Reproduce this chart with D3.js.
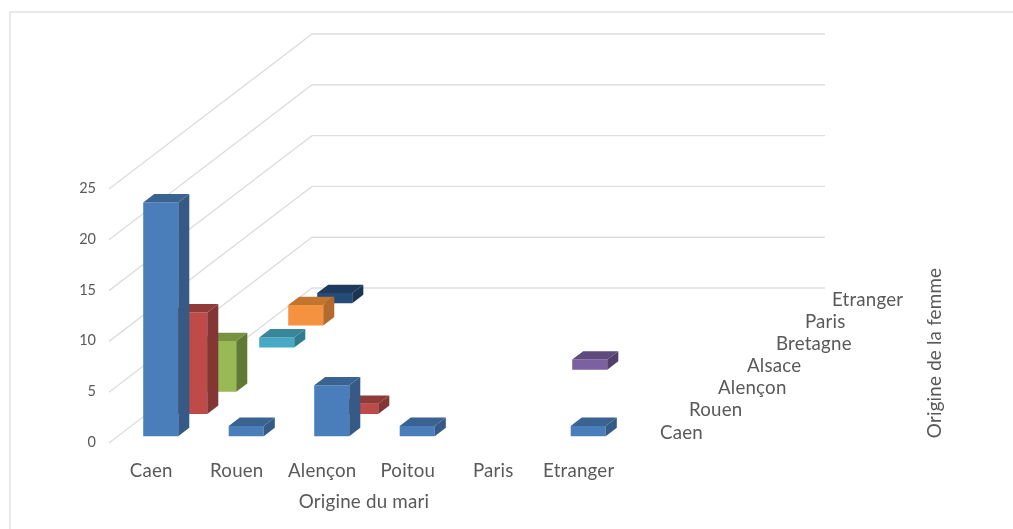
<!DOCTYPE html>
<html><head><meta charset="utf-8">
<script src="https://cdn.jsdelivr.net/npm/d3@7"></script>
<style>html,body{margin:0;padding:0;background:#fff}svg{display:block;filter:blur(0.35px)}text{font-family:Lato,"Open Sans",sans-serif;fill:#595959}</style>
</head><body><svg id="c" width="1013" height="529"></svg>
<script>
const husbandOrigins = ["Caen","Rouen","Alençon","Poitou","Paris","Etranger"];
const wifeOrigins = ["Caen","Rouen","Alençon","Alsace","Bretagne","Paris","Etranger"];
const valuesCaen     = [23,1,5,1,0,1];
const valuesRouen    = [10,0,1,0,0,0];
const valuesAlencon  = [5,0,0,0,0,0];
const valuesAlsace   = [0,0,0,0,1,0];
const valuesBretagne = [1,0,0,0,0,0];
const valuesParis    = [2,0,0,0,0,0];
const valuesEtranger = [1,0,0,0,0,0];
const seriesValues = [valuesCaen,valuesRouen,valuesAlencon,valuesAlsace,valuesBretagne,valuesParis,valuesEtranger];
const valueTicks = [0,5,10,15,20,25];
const frontColors = ["#4a7ebb","#be4b48","#98b954","#7d60a0","#46aac5","#f59240","#254b78"];
const sideColors  = ["#355a86","#843634","#617a33","#523f6b","#2f7c90","#b36a2c","#1a3552"];
const topColors   = ["#3a6391","#8f3b39","#789340","#5e4a7c","#37869c","#c1752f","#1e3b5e"];

const svg = d3.select("#c");
const corner = {x:109,y:443};
const wallW = 513, depthW = 203, depthH = 155;

const x = d3.scaleBand().domain(husbandOrigins).range([0,wallW]).paddingInner(0.59).paddingOuter(0.295);
const y = d3.scaleLinear().domain([0,25]).range([0,254]);
const dx = d3.scaleLinear().domain([0,wifeOrigins.length]).range([0,depthW]);
const dy = d3.scaleLinear().domain([0,wifeOrigins.length]).range([0,depthH]);
const P = (px,d,v)=>[corner.x+px+dx(d), corner.y-dy(d)-y(v)];
const pts = a=>a.map(p=>p.join(",")).join(" ");

// outer frame
svg.append("path").attr("d","M10,529V12H1013").attr("fill","none").attr("stroke","#e2e2e2").attr("stroke-width",1.5);

// gridlines
const grid = svg.append("g").attr("fill","none").attr("stroke","#dedede").attr("stroke-width",1.4);
grid.selectAll("polyline").data(valueTicks).join("polyline")
  .attr("points",t=>pts([P(0,0,t),P(0,wifeOrigins.length,t),P(wallW,wifeOrigins.length,t)]));

// bars, back to front
const flat = [];
seriesValues.forEach((vals,s)=>vals.forEach((v,c)=>{ if(v>0) flat.push({s,c,v}); }));
flat.sort((a,b)=>b.s-a.s||a.c-b.c);
const near = 0.31, far = 0.69;
const bars = svg.append("g").selectAll("g").data(flat).join("g");
bars.append("polygon").attr("fill",d=>frontColors[d.s]).attr("points",d=>{
  const l=x(husbandOrigins[d.c]), r=l+x.bandwidth(), z=d.s+near;
  return pts([P(l,z,0),P(r,z,0),P(r,z,d.v),P(l,z,d.v)]);});
bars.append("polygon").attr("fill",d=>sideColors[d.s]).attr("points",d=>{
  const r=x(husbandOrigins[d.c])+x.bandwidth(), a=d.s+near, b=d.s+far;
  return pts([P(r,a,0),P(r,b,0),P(r,b,d.v),P(r,a,d.v)]);});
bars.append("polygon").attr("fill",d=>topColors[d.s]).attr("points",d=>{
  const l=x(husbandOrigins[d.c]), r=l+x.bandwidth(), a=d.s+near, b=d.s+far;
  return pts([P(l,a,d.v),P(r,a,d.v),P(r,b,d.v),P(l,b,d.v)]);});

// value labels
svg.append("g").selectAll("text").data(valueTicks).join("text")
  .attr("x",96).attr("y",t=>P(0,0,t)[1]+4).attr("text-anchor","end").attr("font-size",14.5).text(d=>d);
// husband labels
svg.append("g").selectAll("text").data(husbandOrigins).join("text")
  .attr("x",d=>corner.x+x(d)+x.bandwidth()/2-0.5).attr("y",477).attr("text-anchor","middle").attr("font-size",18.7).attr("letter-spacing",0.2).text(d=>d);
// wife labels
svg.append("g").selectAll("text").data(wifeOrigins).join("text")
  .attr("x",(d,i)=>660+dx(i)-(i>5?2:0)).attr("y",(d,i)=>438.5-dy(i)).attr("font-size",18.7).attr("letter-spacing",0.2).text(d=>d);
// titles
svg.append("text").attr("x",364).attr("y",507.5).attr("text-anchor","middle").attr("font-size",18.8).attr("letter-spacing",0.2).text("Origine du mari");
svg.append("text").attr("transform","translate(941,353) rotate(-90)").attr("text-anchor","middle").attr("font-size",18.8).attr("letter-spacing",0.2).text("Origine de la femme");
</script></body></html>
